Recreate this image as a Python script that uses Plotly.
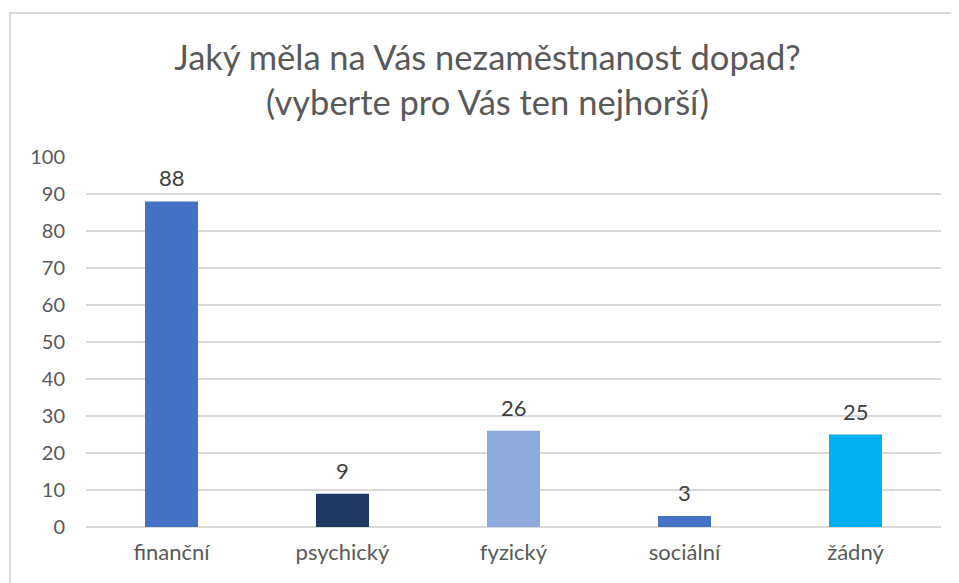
import plotly.graph_objects as go

categories = ["finanční", "psychický", "fyzický", "sociální", "žádný"]
values = [88, 9, 26, 3, 25]
colors = ["#4472C4", "#1F3864", "#8FAADC", "#4472C4", "#00B0F0"]
y_ticks = [0, 10, 20, 30, 40, 50, 60, 70, 80, 90, 100]

title_text = "Jaký měla na Vás nezaměstnanost dopad?<br>(vyberte pro Vás ten nejhorší)"

FONT = "Lato, 'Open Sans', sans-serif"

fig = go.Figure(go.Bar(
    x=categories, y=values,
    marker=dict(color=colors, line=dict(width=0)),
    width=0.31,
))

for c, v in zip(categories, values):
    fig.add_annotation(x=c, y=v, text=str(v), showarrow=False, yanchor="bottom",
                       yshift=8, font=dict(family=FONT, size=22, color="#404040"))

OX, OY = 8, 7  # page offset
L, R, T, B = 86 - OX, 18 + OX, 156 - OY, 57 + OY
W, H = 959, 583
pw = W - L - R
ph = H - T - B

fig.update_layout(
    width=W, height=H,
    margin=dict(l=L, r=R, t=T, b=B),
    paper_bgcolor="white", plot_bgcolor="white",
    font=dict(family=FONT, color="#595959"),
    title=dict(text=title_text, x=0.5, xanchor="center", y=1 - 62 / H, yanchor="top",
               font=dict(family=FONT, size=34.5, color="#595959")),
    showlegend=False,
    xaxis=dict(showgrid=False, showline=False, zeroline=False, ticks="",
               tickfont=dict(size=22, color="#595959"), ticklabelstandoff=10),
    yaxis=dict(range=[0, 100], tickvals=y_ticks, showgrid=True, gridcolor="#D9D9D9",
               gridwidth=1.5, zeroline=True, zerolinecolor="#D9D9D9", zerolinewidth=1.5,
               showline=False, ticks="", tickfont=dict(size=20, color="#595959"),
               ticklabelstandoff=20),
    shapes=[dict(type="rect", xref="paper", yref="paper",
                 x0=(10 - OX - L) / pw, x1=(W + 20 - L) / pw,
                 y0=(H - B - (H + 20)) / ph, y1=(H - B - (12 - OY)) / ph,
                 line=dict(color="#D9D9D9", width=2), fillcolor="rgba(0,0,0,0)",
                 layer="below")],
)

fig.write_html("out.html")
